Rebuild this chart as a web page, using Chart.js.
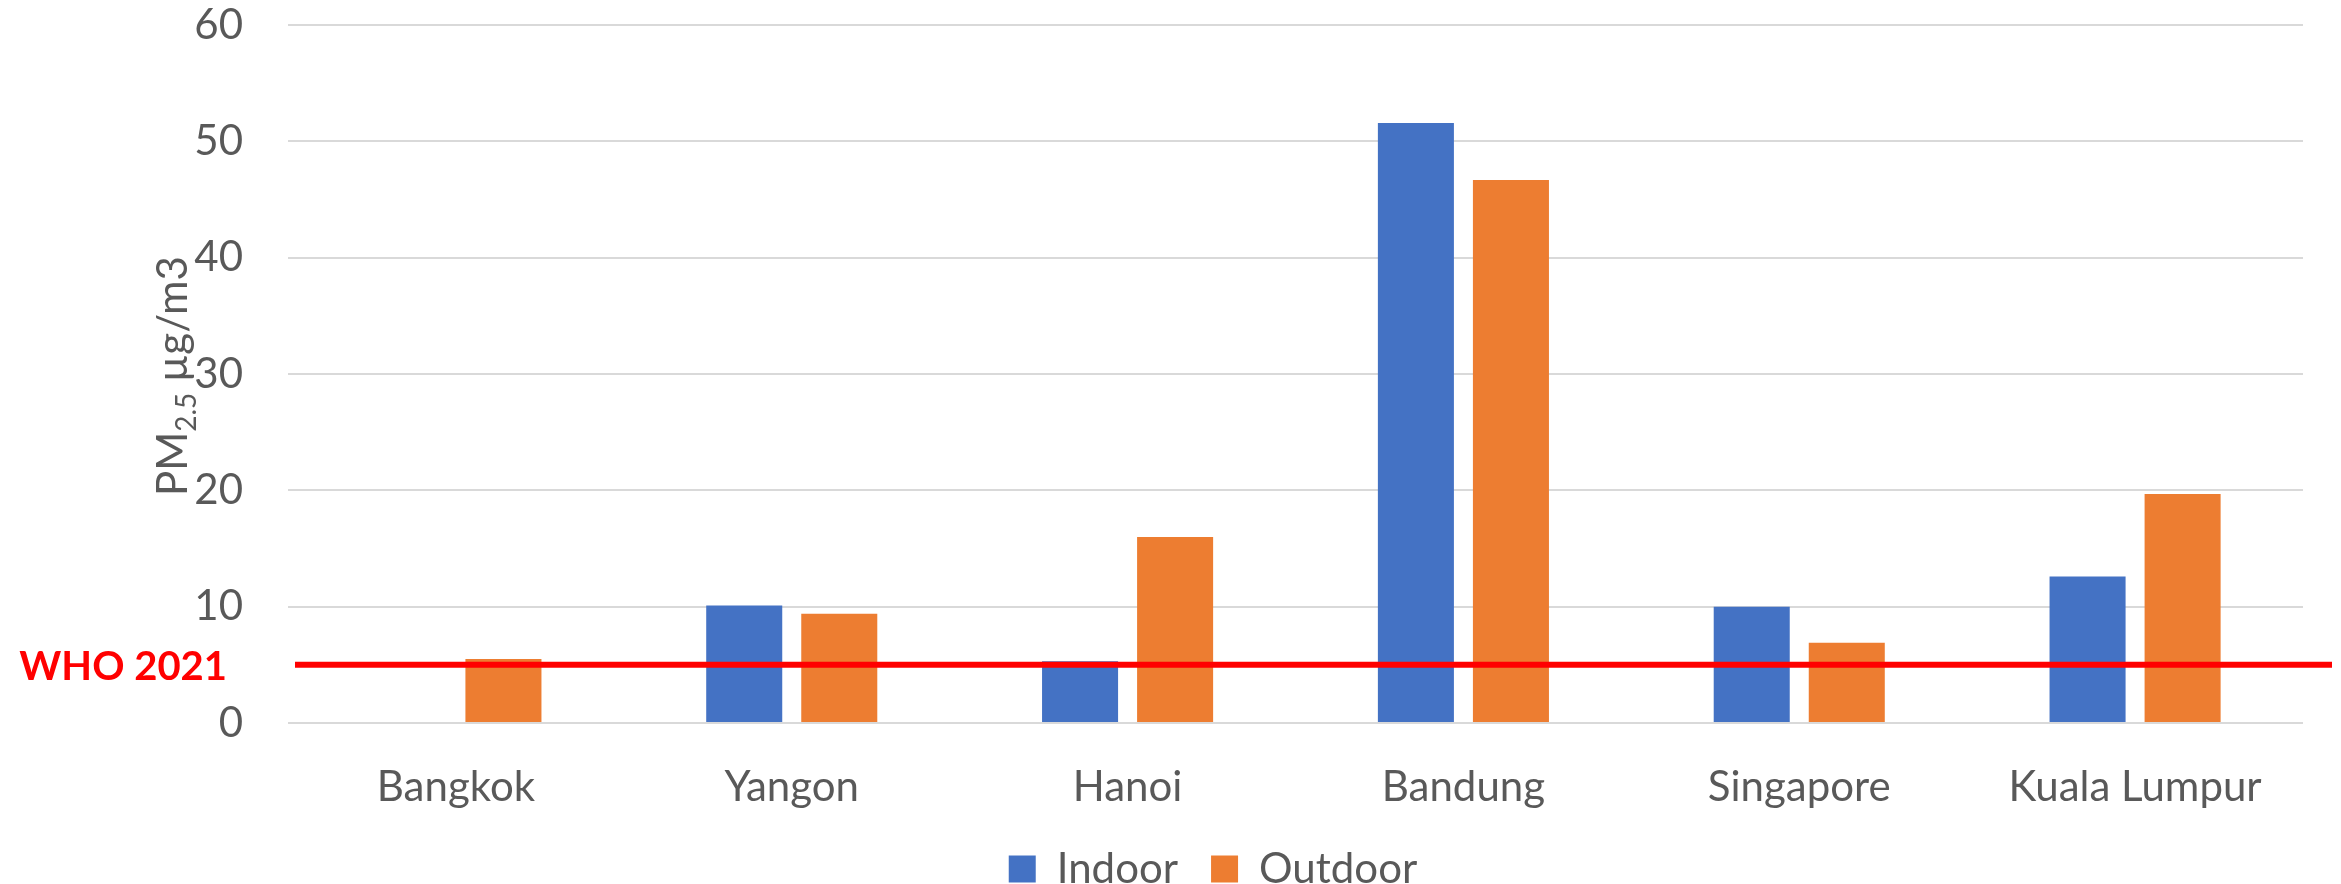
<!DOCTYPE html>
<html>
<head>
<meta charset="utf-8">
<script src="https://cdn.jsdelivr.net/npm/chart.js@4"></script>
<style>
    html, body { margin: 0; padding: 0; background: #ffffff; }
    #wrap { width: 2341px; height: 884px; position: relative; }
</style>
</head>
<body>
<div id="wrap"><canvas id="pmChart"></canvas></div>
<script>
const cities = ['Bangkok', 'Yangon', 'Hanoi', 'Bandung', 'Singapore', 'Kuala Lumpur'];
const indoor = [null, 10.1, 5.3, 51.6, 10.0, 12.6];
const outdoor = [5.5, 9.4, 16.0, 46.7, 6.9, 19.7];
const yTicks = [0, 10, 20, 30, 40, 50, 60];
const whoLevel = 5;
const whoLabel = 'WHO 2021';

const textGrey = '#595959';
const fontFamily = 'Lato, "Open Sans", sans-serif';

// red guideline with its label on the left
const whoLinePlugin = {
    id: 'whoLine',
    afterDatasetsDraw(chart) {
        const { ctx, chartArea } = chart;
        const y = chart.scales.y.getPixelForValue(whoLevel);
        ctx.save();
        ctx.strokeStyle = '#ff0000';
        ctx.lineWidth = 6;
        ctx.beginPath();
        ctx.moveTo(chartArea.left + 7, y);
        ctx.lineTo(chartArea.right + 29, y);
        ctx.stroke();
        ctx.fillStyle = '#ff0000';
        ctx.font = 'bold 40px ' + fontFamily;
        ctx.textAlign = 'right';
        ctx.textBaseline = 'middle';
        ctx.fillText(whoLabel, chartArea.left - 61, y + 2);
        ctx.restore();
    }
};

// y axis title with subscript: PM2.5 µg/m3
const yTitlePlugin = {
    id: 'yTitle',
    afterDraw(chart) {
        const { ctx, chartArea } = chart;
        const parts = [
            { text: 'PM', size: 42, shift: 0 },
            { text: '2.5', size: 28, shift: 9 },
            { text: ' µg/m3', size: 42, shift: 0 }
        ];
        ctx.save();
        ctx.fillStyle = textGrey;
        ctx.textBaseline = 'alphabetic';
        ctx.textAlign = 'left';
        let total = 0;
        parts.forEach(p => {
            ctx.font = p.size + 'px ' + fontFamily;
            p.w = ctx.measureText(p.text).width;
            total += p.w;
        });
        ctx.translate(chartArea.left - 101, (chartArea.top + chartArea.bottom) / 2 + 2);
        ctx.rotate(-Math.PI / 2);
        let x = -total / 2;
        parts.forEach(p => {
            ctx.font = p.size + 'px ' + fontFamily;
            ctx.fillText(p.text, x, p.shift);
            x += p.w;
        });
        ctx.restore();
    }
};

const ctx = document.getElementById('pmChart').getContext('2d');

const pmChart = new Chart(ctx, {
    type: 'bar',
    data: {
        labels: cities,
        datasets: [
            {
                label: 'Indoor',
                data: indoor,
                backgroundColor: '#4472c4',
                barPercentage: 0.8,
                categoryPercentage: 0.566
            },
            {
                label: 'Outdoor',
                data: outdoor,
                backgroundColor: '#ed7d31',
                barPercentage: 0.8,
                categoryPercentage: 0.566
            }
        ]
    },
    options: {
        responsive: true,
        maintainAspectRatio: false,
        animation: false,
        layout: {
            padding: { top: 0, right: 38, bottom: -16, left: 123 }
        },
        plugins: {
            legend: {
                position: 'bottom',
                labels: {
                    color: textGrey,
                    font: { family: fontFamily, size: 42 },
                    boxWidth: 27,
                    boxHeight: 27,
                    padding: 33
                }
            },
            tooltip: { enabled: false }
        },
        scales: {
            x: {
                grid: { display: false },
                border: { display: false },
                ticks: {
                    color: textGrey,
                    font: { family: fontFamily, size: 42 },
                    padding: 31,
                    maxRotation: 0
                },
                afterFit: scale => { scale.height = 92; }
            },
            y: {
                min: 0,
                max: 60,
                border: { display: false },
                grid: {
                    color: '#d9d9d9',
                    lineWidth: 2,
                    tickLength: 45,
                    tickColor: 'rgba(0,0,0,0)'
                },
                ticks: {
                    color: textGrey,
                    font: { family: fontFamily, size: 42 },
                    padding: 0
                },
                afterBuildTicks: scale => { scale.ticks = yTicks.map(v => ({ value: v })); },
                afterFit: scale => { scale.width = 165; }
            }
        }
    },
    plugins: [whoLinePlugin, yTitlePlugin]
});
</script>
</body>
</html>
